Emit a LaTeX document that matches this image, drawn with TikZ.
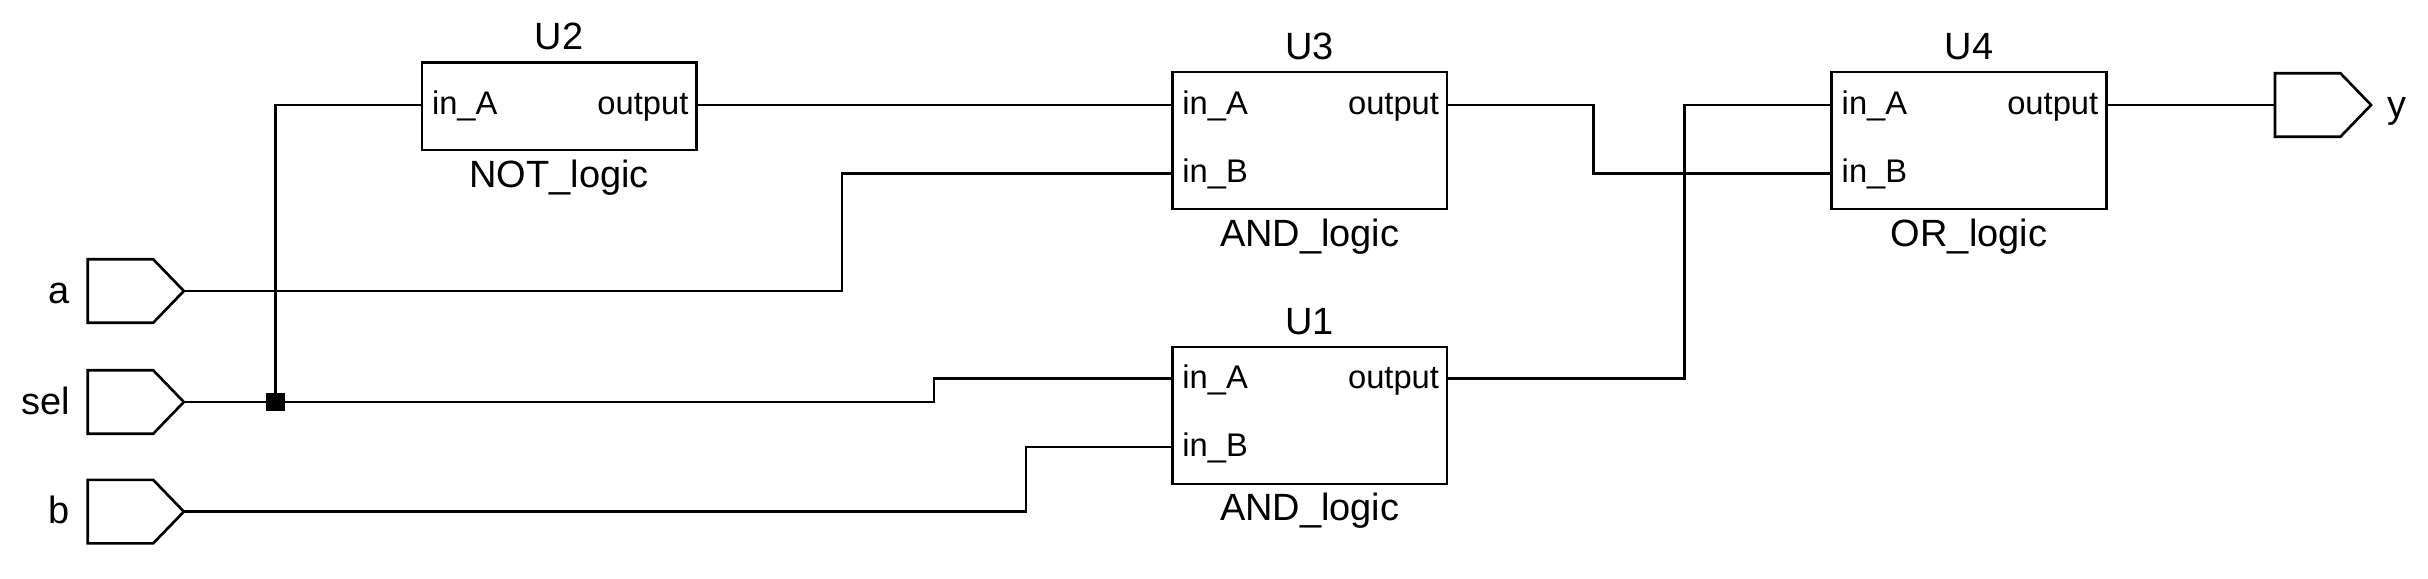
\documentclass[tikz,border=0pt]{standalone}
\usepackage{fontspec}
\setmainfont{Liberation Sans}
\usetikzlibrary{positioning,shapes.symbols}
\tikzset{
  wire/.style={line width=0.75pt},
  block/.style={draw, line width=0.75pt, inner sep=0, outer sep=0, minimum width=2.745cm},
  title/.style={font=\fontsize{10.8pt}{12pt}\selectfont, inner sep=0, outer sep=0, text height=0.27cm, text depth=0},
  pinin/.style={font=\fontsize{9.3pt}{11pt}\selectfont, anchor=west, inner xsep=0.1cm, inner ysep=0, outer sep=0, text height=0.195cm, text depth=0},
  pinout/.style={pinin, anchor=east, inner xsep=0.08cm},
  port/.style={draw, line width=0.75pt, signal, signal to=east, signal pointer angle=92, anchor=west, inner sep=0, outer sep=0, minimum width=0.96cm, minimum height=0.635cm},
  portname/.style={font=\fontsize{10.8pt}{12pt}\selectfont, inner sep=0, outer sep=0, text height=0.24cm, text depth=0},
  joint/.style={fill=black, inner sep=0, outer sep=0, minimum width=0.19cm, minimum height=0.18cm}
}
\begin{document}
\begin{tikzpicture}[x=0.01cm, y=-0.01cm]
  \useasboundingbox (0,0) rectangle (2428,578);

  % input and output ports
  \node[port] (a) at (87.8,291) {};
  \node[port] (sel) at (87.8,402) {};
  \node[port] (b) at (87.8,511.6) {};
  \node[port] (y) at (2275,105) {};
  \node[portname, left=0.18cm of a] (aname) {a};
  \node[portname, left=0.18cm of sel] (selname) {sel};
  \node[portname, left=0.18cm of b] (bname) {b};
  \node[portname, right=0.16cm of y] (yname) {y};

  % U2
  \node[block, minimum height=0.877cm] (U2) at (559.2,106.2) {};
  \node[title, above=0.13cm of U2] (U2name) {U2};
  \node[title, below=0.1cm of U2] (U2type) {NOT\_logic};
  \node[pinin] (U2inA) at (422,105) {in\_A};
  \node[pinout] (U2out) at (696.4,105) {output};

  % U3
  \node[block, minimum height=1.368cm] (U3) at (1309.7,140.6) {};
  \node[title, above=0.13cm of U3] (U3name) {U3};
  \node[title, below=0.1cm of U3] (U3type) {AND\_logic};
  \node[pinin] (U3inA) at (1172.4,105) {in\_A};
  \node[pinin] (U3inB) at (1172.4,173.2) {in\_B};
  \node[pinout] (U3out) at (1447,105) {output};

  % U1
  \node[block, minimum height=1.368cm] (U1) at (1309.7,415.5) {};
  \node[title, above=0.13cm of U1] (U1name) {U1};
  \node[title, below=0.1cm of U1] (U1type) {AND\_logic};
  \node[pinin] (U1inA) at (1172.4,378.5) {in\_A};
  \node[pinin] (U1inB) at (1172.4,447) {in\_B};
  \node[pinout] (U1out) at (1447,378.5) {output};

  % U4
  \node[block, minimum height=1.368cm] (U4) at (1969,140.6) {};
  \node[title, above=0.13cm of U4] (U4name) {U4};
  \node[title, below=0.1cm of U4] (U4type) {OR\_logic};
  \node[pinin] (U4inA) at (1831.7,105) {in\_A};
  \node[pinin] (U4inB) at (1831.7,173.2) {in\_B};
  \node[pinout] (U4out) at (2106.2,105) {output};

  % nets
  \node[joint] (jsel) at (275.5,402) {};
  \coordinate (abend) at (842,173.2);
  \coordinate (selbend) at (934,378.5);
  \coordinate (bbend) at (1026,447);
  \coordinate (u3bend) at (1593.4,173.2);
  \coordinate (u1bend) at (1684.5,105);
  \draw[wire] (jsel.center) |- (U2inA.west);
  \draw[wire] (U2out.east) -- (U3inA.west);
  \draw[wire] (a.east) -| (abend) -- (U3inB.west);
  \draw[wire] (sel.east) -- (jsel.center) -| (selbend) -- (U1inA.west);
  \draw[wire] (b.east) -| (bbend) -- (U1inB.west);
  \draw[wire] (U3out.east) -| (u3bend) -- (U4inB.west);
  \draw[wire] (U1out.east) -| (u1bend) -- (U4inA.west);
  \draw[wire] (U4out.east) -- (y.west);
\end{tikzpicture}
\end{document}
